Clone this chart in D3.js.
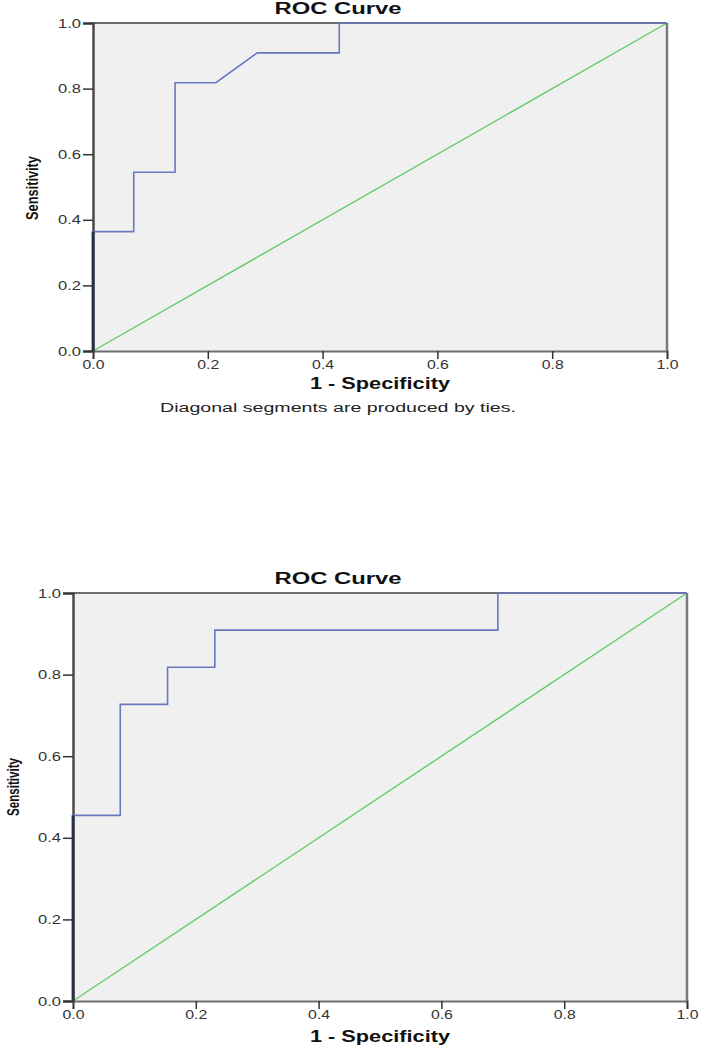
<!DOCTYPE html>
<html>
<head>
<meta charset="utf-8">
<script src="https://cdn.jsdelivr.net/npm/d3@7"></script>
<style>
  html, body { margin: 0; padding: 0; background: #ffffff; }
  svg { display: block; }
  text { font-family: "Liberation Sans", Arial, sans-serif; }
</style>
</head>
<body>
<svg id="chart" width="705" height="1050"></svg>
<script>
// ---- Data ----
const chartTitle = "ROC Curve";
const xTitle = "1 - Specificity";
const yTitle = "Sensitivity";
const footnote = "Diagonal segments are produced by ties.";

const tickValues = [0, 0.2, 0.4, 0.6, 0.8, 1.0];
const tickLabels = ["0.0", "0.2", "0.4", "0.6", "0.8", "1.0"];

// Chart 1 (top)
const topFpr = [0, 0, 0.071, 0.071, 0.143, 0.143, 0.214, 0.286, 0.429, 0.429, 1.0];
const topTpr = [0, 0.364, 0.364, 0.545, 0.545, 0.818, 0.818, 0.909, 0.909, 1.0, 1.0];

// Chart 2 (bottom)
const botFpr = [0, 0, 0.077, 0.077, 0.154, 0.154, 0.231, 0.231, 0.692, 0.692, 1.0];
const botTpr = [0, 0.455, 0.455, 0.727, 0.727, 0.818, 0.818, 0.909, 0.909, 1.0, 1.0];

// Reference line
const refX = [0, 1];
const refY = [0, 1];

// ---- Drawing ----
const svg = d3.select("#chart");

function drawPanel(cfg) {
  const x = d3.scaleLinear().domain([0, 1]).range([cfg.left, cfg.right]);
  const y = d3.scaleLinear().domain([0, 1]).range([cfg.bottom, cfg.top]);
  const g = svg.append("g");

  // background
  g.append("rect")
    .attr("x", x(0)).attr("y", y(1))
    .attr("width", x(1) - x(0)).attr("height", y(0) - y(1))
    .attr("fill", "#f0f0f0");

  // reference diagonal
  const line = d3.line().x(d => x(d[0])).y(d => y(d[1]));
  g.append("path")
    .datum(refX.map((v, i) => [v, refY[i]]))
    .attr("d", line)
    .attr("fill", "none")
    .attr("stroke", "#62cc6a")
    .attr("stroke-width", 1.4);

  // frame: top and right borders
  g.append("line").attr("x1", x(0)).attr("x2", x(1)).attr("y1", y(1)).attr("y2", y(1))
    .attr("stroke", "#6e6e6e").attr("stroke-width", 2);
  g.append("line").attr("x1", x(1)).attr("x2", x(1)).attr("y1", y(1)).attr("y2", y(0))
    .attr("stroke", "#7a7a7a").attr("stroke-width", 2.5);

  // x axis
  const xAxis = d3.axisBottom(x).tickValues(tickValues)
    .tickFormat((d, i) => tickLabels[i]).tickSize(8).tickPadding(4);
  const gx = g.append("g").attr("transform", `translate(0,${y(0)})`).call(xAxis);
  gx.select(".domain").attr("stroke", "#6e6e6e").attr("stroke-width", 2);
  gx.selectAll(".tick line").attr("stroke", "#333").attr("stroke-width", 1.5);
  gx.selectAll(".tick text")
    .attr("font-size", 12.5).attr("fill", "#333")
    .attr("textLength", 22).attr("lengthAdjust", "spacingAndGlyphs")
    .attr("y", 9).attr("dy", "0.71em");

  // y axis
  const yAxis = d3.axisLeft(y).tickValues(tickValues)
    .tickFormat((d, i) => tickLabels[i]).tickSize(10).tickPadding(2);
  const gy = g.append("g").attr("transform", `translate(${x(0)},0)`).call(yAxis);
  gy.select(".domain").attr("stroke", "#4a4a4a").attr("stroke-width", 2.5);
  gy.selectAll(".tick line").attr("stroke", "#333").attr("stroke-width", 1.5);
  gy.selectAll(".tick text")
    .attr("font-size", 12.5).attr("fill", "#333")
    .attr("textLength", 23).attr("lengthAdjust", "spacingAndGlyphs");
  g.selectAll(".domain").attr("fill", "none");

  // ROC curve
  g.append("path")
    .datum(cfg.fpr.map((v, i) => [v, cfg.tpr[i]]))
    .attr("d", line)
    .attr("fill", "none")
    .attr("stroke", "#6878c0")
    .attr("stroke-width", 1.6);
  // overlap of the curve with the left axis (curve running along x = 0)
  g.append("path")
    .datum(cfg.fpr.map((v, i) => [v, cfg.tpr[i]]).slice(0, 2))
    .attr("d", line)
    .attr("fill", "none")
    .attr("stroke", "#26304d")
    .attr("stroke-width", 2.8);

  // title
  g.append("text")
    .attr("x", cfg.titleX).attr("y", y(1) - 13)
    .attr("text-anchor", "middle").attr("dominant-baseline", "middle")
    .attr("font-size", 16).attr("font-weight", "bold").attr("fill", "#111")
    .attr("textLength", 127).attr("lengthAdjust", "spacingAndGlyphs")
    .text(chartTitle);

  // x title
  g.append("text")
    .attr("x", (x(0) + x(1)) / 2).attr("y", y(0) + cfg.xTitleOff)
    .attr("text-anchor", "middle").attr("dominant-baseline", "middle")
    .attr("font-size", 16).attr("font-weight", "bold").attr("fill", "#111")
    .attr("textLength", 140).attr("lengthAdjust", "spacingAndGlyphs")
    .text(xTitle);

  // y title
  g.append("text")
    .attr("transform", `translate(${cfg.yTitleX},${cfg.yTitleY}) rotate(-90)`)
    .attr("text-anchor", "middle").attr("dominant-baseline", "middle")
    .attr("font-size", 16.5).attr("font-weight", "bold").attr("fill", "#111")
    .attr("textLength", cfg.yTitleLen).attr("lengthAdjust", "spacingAndGlyphs")
    .text(yTitle);

  if (cfg.footnote) {
    g.append("text")
      .attr("x", cfg.titleX).attr("y", y(0) + 58)
      .attr("text-anchor", "middle").attr("dominant-baseline", "middle")
      .attr("font-size", 12.5).attr("fill", "#222")
      .attr("textLength", 356).attr("lengthAdjust", "spacingAndGlyphs")
      .text(cfg.footnote);
  }
}

drawPanel({
  left: 93, right: 667, top: 23, bottom: 351,
  fpr: topFpr, tpr: topTpr,
  titleX: 338, xTitleOff: 34, yTitleX: 34, yTitleY: 188, yTitleLen: 64,
  footnote: footnote
});

drawPanel({
  left: 73, right: 687, top: 593, bottom: 1001,
  fpr: botFpr, tpr: botTpr,
  titleX: 338, xTitleOff: 37, yTitleX: 15, yTitleY: 787, yTitleLen: 58,
  footnote: null
});
</script>
</body>
</html>
